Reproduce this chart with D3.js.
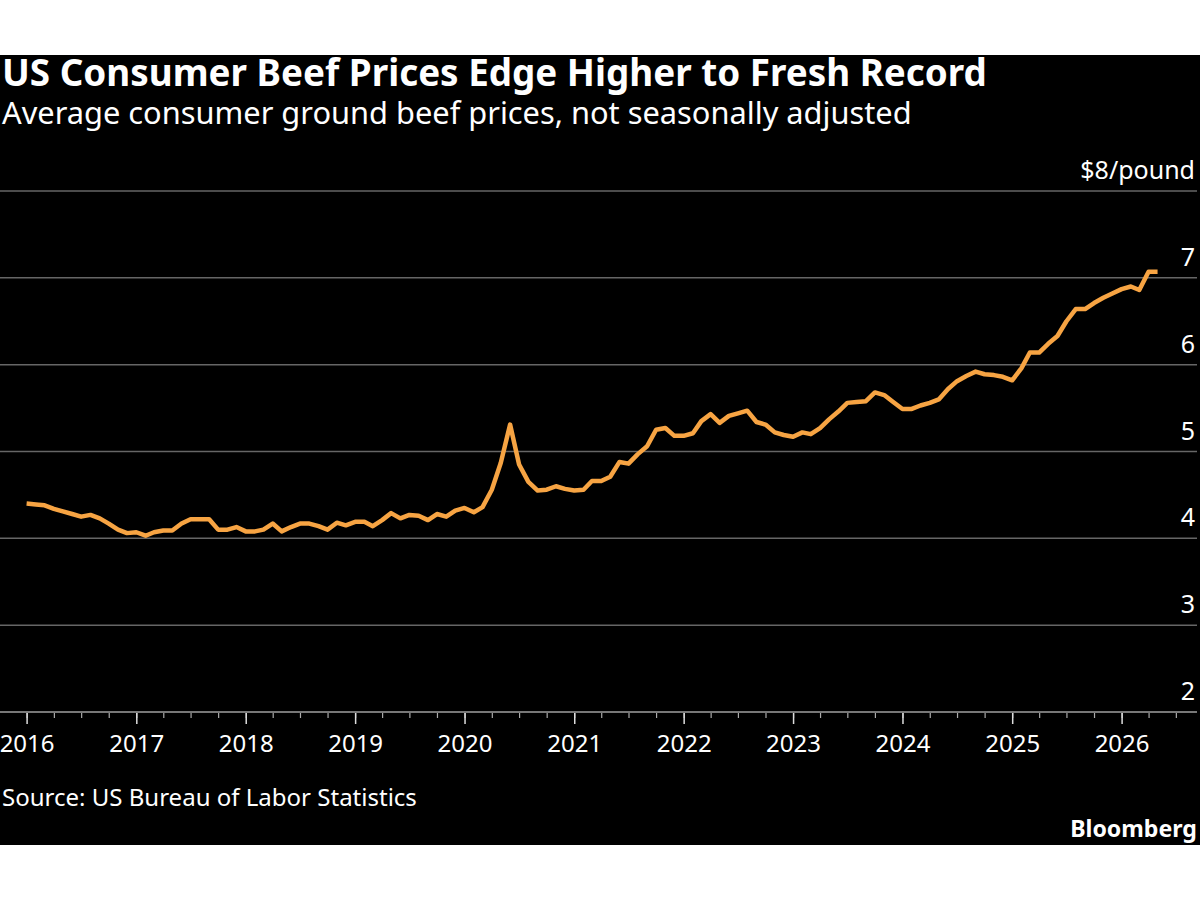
<!DOCTYPE html>
<html>
<head>
<meta charset="utf-8">
<script src="https://cdn.jsdelivr.net/npm/d3@7"></script>
<style>
  body { margin: 0; background: #fff; }
  text { font-family: "Noto Sans", "Open Sans", sans-serif; }
</style>
</head>
<body>
<svg id="chart" width="1200" height="900"></svg>
<script>
// monthly average price of ground beef, $/pound, Jan 2016 - May 2026
let startMonth = "2016-01",
    prices = [
  4.40, 4.39, 4.38, 4.34, 4.31, 4.28, 4.25, 4.27, 4.23, 4.17, 4.10, 4.06,
  4.07, 4.03, 4.07, 4.09, 4.09, 4.17, 4.22, 4.22, 4.22, 4.10, 4.10, 4.13,
  4.08, 4.08, 4.10, 4.17, 4.08, 4.13, 4.17, 4.17, 4.14, 4.10, 4.18, 4.15,
  4.19, 4.19, 4.14, 4.21, 4.29, 4.23, 4.27, 4.26, 4.21, 4.28, 4.25, 4.32,
  4.35, 4.30, 4.36, 4.56, 4.87, 5.31, 4.85, 4.65, 4.55, 4.56, 4.60, 4.57,
  4.55, 4.56, 4.66, 4.66, 4.71, 4.88, 4.86, 4.97, 5.06, 5.25, 5.27, 5.18,
  5.18, 5.21, 5.35, 5.43, 5.33, 5.41, 5.44, 5.47, 5.34, 5.31, 5.22, 5.19,
  5.17, 5.22, 5.20, 5.27, 5.37, 5.46, 5.56, 5.57, 5.58, 5.68, 5.65, 5.57,
  5.49, 5.49, 5.53, 5.56, 5.60, 5.72, 5.81, 5.87, 5.92, 5.89, 5.88, 5.86,
  5.82, 5.96, 6.14, 6.14, 6.24, 6.33, 6.50, 6.64, 6.64, 6.71, 6.77, 6.82,
  6.87, 6.90, 6.86, 7.07, 7.07
];
let yTicks = [2, 3, 4, 5, 6, 7, 8],
    yUnit = "/pound",
    xYears = [2016, 2017, 2018, 2019, 2020, 2021, 2022, 2023, 2024, 2025, 2026];

let title = "US Consumer Beef Prices Edge Higher to Fresh Record",
    subtitle = "Average consumer ground beef prices, not seasonally adjusted",
    source = "Source: US Bureau of Labor Statistics";

let width = 1200,
    height = 900,
    margins = {left: 26.6, right: 1197};

function parse() {
  let t0 = d3.timeParse("%Y-%m")(startMonth);
  return prices.map((p, i) => ({date: d3.timeMonth.offset(t0, i), price: p}));
}

function make_scales() {
  return {
    x: d3.scaleTime()
         .domain([new Date(xYears[0], 0, 1), new Date(xYears[xYears.length - 1], 0, 1)])
         .range([26.6, 1121.6]),
    y: d3.scaleLinear()
         .domain([2, 8])
         .range([712, 191])
  }
}

// shrink or grow the font so a line of text spans the given width
function fit(sel, w) {
  let len = sel.node().getComputedTextLength(),
      fs = parseFloat(sel.attr("font-size"));
  sel.attr("font-size", fs * w / len);
}

function draw_frame(svg) {
  svg.append("rect")
    .attr("x", 0).attr("y", 55)
    .attr("width", width).attr("height", 790)
    .attr("fill", "#000");

  svg.append("text")
    .attr("x", 2).attr("y", 86)
    .attr("font-size", 34).attr("font-weight", "bold")
    .attr("fill", "#fff")
    .text(title)
    .call(fit, 985);

  svg.append("text")
    .attr("x", 2).attr("y", 124)
    .attr("font-size", 30)
    .attr("fill", "#fff")
    .text(subtitle)
    .call(fit, 910);

  svg.append("text")
    .attr("x", 2).attr("y", 806)
    .attr("font-size", 23)
    .attr("fill", "#fff")
    .text(source)
    .call(fit, 415);

  svg.append("text")
    .attr("x", 1197).attr("y", 837)
    .attr("text-anchor", "end")
    .attr("font-size", 22).attr("font-weight", "bold")
    .attr("fill", "#fff")
    .text("Bloomberg")
    .call(fit, 127);
}

function add_axes(svg, scales) {
  let grid = svg.append("g").attr("id", "grid");

  grid.selectAll("line")
    .data(yTicks.slice(1)).enter()
    .append("line")
    .attr("x1", 0).attr("x2", margins.right)
    .attr("y1", d => scales.y(d)).attr("y2", d => scales.y(d))
    .attr("stroke", "#666").attr("stroke-width", 1.5);

  grid.selectAll("text")
    .data(yTicks).enter()
    .append("text")
    .attr("x", 1195)
    .attr("y", d => scales.y(d) - 12)
    .attr("text-anchor", "end")
    .attr("font-size", 25)
    .attr("fill", "#fff")
    .text(d => d == 8 ? "$" + d + yUnit : d);

  let x_major = d3.axisBottom(scales.x)
        .tickValues(xYears.map(y => new Date(y, 0, 1)))
        .tickFormat(d3.timeFormat("%Y"))
        .tickSize(12)
        .tickSizeOuter(0),
      x_minor = d3.axisBottom(scales.x)
        .tickValues(d3.timeMonth.every(3).range(new Date(2016, 0, 1), new Date(2026, 10, 1)))
        .tickFormat("")
        .tickSize(6)
        .tickSizeOuter(0);

  let gMinor = svg.append("g")
    .attr("transform", `translate(0,${scales.y(2)})`)
    .call(x_minor);
  gMinor.select(".domain").remove();
  gMinor.selectAll("line").attr("stroke", "#aaa").attr("stroke-width", 1.2);

  let gx = svg.append("g")
    .attr("id", "x_axis")
    .attr("transform", `translate(0,${scales.y(2)})`)
    .call(x_major);
  gx.select(".domain").remove();
  gx.selectAll("line").attr("stroke", "#ddd").attr("stroke-width", 1.5);
  gx.selectAll("text")
    .attr("font-size", 24)
    .attr("font-family", "'Noto Sans', sans-serif")
    .attr("fill", "#fff")
    .attr("dy", "1.05em");

  svg.append("line")
    .attr("x1", 0).attr("x2", margins.right)
    .attr("y1", scales.y(2)).attr("y2", scales.y(2))
    .attr("stroke", "#777").attr("stroke-width", 2);
}

function draw_line(svg, data, scales) {
  let path_generator = d3.line()
    .x(d => scales.x(d.date))
    .y(d => scales.y(d.price));

  svg.append("path")
    .datum(data)
    .attr("d", path_generator)
    .attr("fill", "none")
    .attr("stroke", "#f7a443")
    .attr("stroke-width", 4.5)
    .attr("stroke-linejoin", "round");
}

function visualize() {
  let data = parse(),
      scales = make_scales(),
      svg = d3.select("#chart");

  svg.append("rect").attr("width", width).attr("height", height).attr("fill", "#fff");
  draw_frame(svg);
  add_axes(svg, scales);
  draw_line(svg, data, scales);
}

visualize();
</script>
</body>
</html>
